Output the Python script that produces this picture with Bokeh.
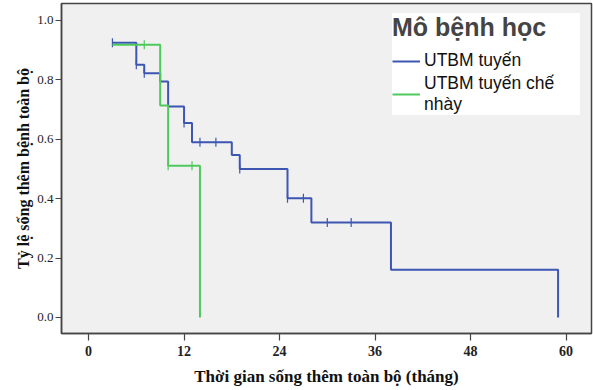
from bokeh.plotting import figure
from bokeh.models import (Range1d, FixedTicker, Legend, LegendItem, CustomJSTickFormatter)
from bokeh.embed import file_html
from bokeh.resources import INLINE

# Kaplan-Meier data (months, survival)
t_adeno = [3, 6, 7, 9, 10, 12, 13, 18, 19, 25, 28, 38, 59]
s_adeno = [0.925, 0.851, 0.822, 0.794, 0.710, 0.655, 0.590, 0.547, 0.500, 0.401, 0.320, 0.161, 0.0]
cens_t_adeno = [3, 6, 7, 12, 14, 16, 19, 25, 27, 30, 33]
cens_s_adeno = [0.925, 0.851, 0.822, 0.655, 0.590, 0.590, 0.500, 0.401, 0.401, 0.320, 0.320]

t_muc = [3, 9, 10, 14]
s_muc = [0.918, 0.714, 0.511, 0.0]
cens_t_muc = [7, 10, 13]
cens_s_muc = [0.918, 0.511, 0.511]

x_ticks = [0, 12, 24, 36, 48, 60]
y_ticks = [0.0, 0.2, 0.4, 0.6, 0.8, 1.0]

BLUE = "#3d56b2"
GREEN = "#4ec95c"

p = figure(width=593, height=390, output_backend="svg", toolbar_location=None,
           x_range=Range1d(-3.4, 63.2), y_range=Range1d(-0.054, 1.057),
           min_border_left=61, min_border_right=2, min_border_top=3, min_border_bottom=57)
p.background_fill_color = "#f0f0f0"
p.border_fill_color = "white"
p.outline_line_color = "#444444"
p.outline_line_width = 1.5
p.xgrid.visible = False
p.ygrid.visible = False

r1 = p.step(t_adeno, s_adeno, mode="after", line_color=BLUE, line_width=2)
p.scatter(cens_t_adeno, cens_s_adeno, marker="dash", angle=1.5708, size=9,
          line_color=BLUE, line_width=1.2)
r2 = p.step(t_muc, s_muc, mode="after", line_color=GREEN, line_width=2)
p.scatter(cens_t_muc, cens_s_muc, marker="dash", angle=1.5708, size=9,
          line_color=GREEN, line_width=1.2)

p.xaxis.ticker = FixedTicker(ticks=x_ticks)
p.yaxis.ticker = FixedTicker(ticks=y_ticks)
p.yaxis.formatter = CustomJSTickFormatter(code="return tick.toFixed(1);")
for ax in (p.xaxis, p.yaxis):
    ax.axis_line_color = "#444444"
    ax.axis_line_width = 1.5
    ax.major_tick_line_color = "#444444"
    ax.major_tick_line_width = 1.2
    ax.major_tick_in = 0
    ax.minor_tick_line_color = None
    ax.major_label_text_font = "Liberation Serif"
    ax.axis_label_text_font = "Liberation Serif"
    ax.axis_label_text_font_style = "bold"
    ax.axis_label_text_color = "#111111"
    ax.major_label_text_color = "#222222"
p.xaxis.axis_label_text_font_size = "17px"
p.yaxis.axis_label_text_font_size = "16px"
p.xaxis.major_tick_out = 7
p.yaxis.major_tick_out = 6
p.yaxis.major_label_standoff = 2
p.xaxis.major_label_text_font_style = "bold"
p.xaxis.major_label_text_font_size = "14px"
p.yaxis.major_label_text_font_size = "13px"
p.xaxis.axis_label = "Thời gian sống thêm toàn bộ (tháng)"
p.yaxis.axis_label = "Tỷ lệ sống thêm bệnh toàn bộ"
p.xaxis.axis_label_standoff = 8
p.yaxis.axis_label_standoff = 2

legend = Legend(items=[LegendItem(label="UTBM tuyến", renderers=[r1]),
                       LegendItem(label="UTBM tuyến chế\nnhày", renderers=[r2])],
                location=(331, 218), title="Mô bệnh học")
legend.title_text_font = "Liberation Sans"
legend.title_text_font_style = "bold"
legend.title_text_font_size = "25px"
legend.title_standoff = 8
legend.label_text_font = "Liberation Sans"
legend.label_text_font_size = "17.5px"
legend.label_text_color = "#111111"
legend.background_fill_color = "white"
legend.background_fill_alpha = 1.0
legend.border_line_color = None
legend.glyph_width = 28
legend.label_width = 156
legend.label_height = 20
legend.label_standoff = 4
legend.spacing = 2
legend.padding = 4
legend.margin = 0
p.add_layout(legend)

open("out.html", "w").write(file_html(p, INLINE))
